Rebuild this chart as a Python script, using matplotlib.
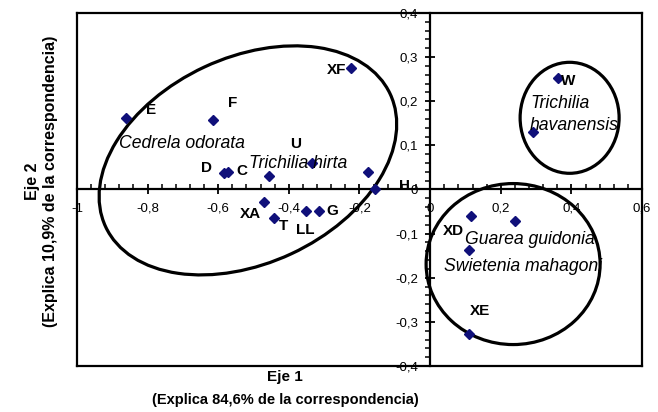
import matplotlib
matplotlib.use("Agg")
from matplotlib import pyplot as plt
from matplotlib.patches import Ellipse
from matplotlib.transforms import ScaledTranslation

# point coordinates
pts_x = [-0.861, -0.614, -0.224, -0.584, -0.571, -0.456, -0.335, -0.470, -0.442,
         -0.352, -0.316, -0.176, -0.156, 0.361, 0.290, 0.115, 0.239, 0.110, 0.110]
pts_y = [0.161, 0.157, 0.276, 0.038, 0.039, 0.030, 0.060, -0.028, -0.064,
         -0.048, -0.048, 0.039, 0.000, 0.252, 0.130, -0.061, -0.072, -0.136, -0.328]

point_labels = ["E", "F", "XF", "U", "D", "C", "XA", "T", "LL", "G", "H", "W", "XD", "XE"]
label_x = [-0.791, -0.560, -0.264, -0.382, -0.633, -0.533, -0.510, -0.414, -0.354,
           -0.278, -0.073, 0.390, 0.066, 0.142]
label_y = [0.180, 0.196, 0.270, 0.104, 0.048, 0.042, -0.055, -0.083, -0.092,
           -0.049, 0.009, 0.245, -0.095, -0.275]

species = ["Cedrela odorata", "Trichilia hirta", "Trichilia\nhavanensis",
           "Guarea guidonia", "Swietenia mahagoni"]
species_x = [-0.703, -0.373, 0.283, 0.283, 0.264]
species_y = [0.105, 0.060, 0.170, -0.114, -0.174]
species_ha = ["center", "center", "left", "center", "center"]

xticks = [-1, -0.8, -0.6, -0.4, -0.2, 0, 0.2, 0.4, 0.6]
xtick_labels = ["-1", "-0,8", "-0,6", "-0,4", "-0,2", "0", "0,2", "0,4", "0,6"]
yticks = [-0.4, -0.3, -0.2, -0.1, 0, 0.1, 0.2, 0.3, 0.4]
ytick_labels = ["-0,4", "-0,3", "-0,2", "-0,1", "0", "0,1", "0,2", "0,3", "0,4"]

# groups: centre (data), semi axes (px), angle
groups_cx = [-0.516, 0.395, 0.235]
groups_cy = [0.066, 0.1625, -0.169]
groups_a = [157, 49.5, 87]
groups_b = [103, 55.5, 80.5]
groups_ang = [25, 0, 0]

plt.rcParams["font.family"] = ["Liberation Sans", "DejaVu Sans"]

fig = plt.figure(figsize=(6.58, 4.12), dpi=100)
ax = fig.add_axes([0.117, 0.1117, 0.8587, 0.8567])
ax.set_xlim(-1, 0.6)
ax.set_ylim(-0.4, 0.4)

ax.spines["left"].set_position(("data", 0))
ax.spines["bottom"].set_position(("data", 0))
for s in ax.spines.values():
    s.set_linewidth(1.6)
    s.set_color("black")
# outer frame edges that the moved spines leave empty
ax.plot([0, 0], [0, 1], color="black", lw=1.6, transform=ax.transAxes, clip_on=False, zorder=5)
ax.plot([0, 1], [0, 0], color="black", lw=1.6, transform=ax.transAxes, clip_on=False, zorder=5)

ax.set_xticks(xticks)
ax.set_xticklabels(xtick_labels)
ax.set_yticks(yticks)
ax.set_yticklabels(ytick_labels)
ax.set_xticks([v / 100 for v in range(-100, 61, 4)], minor=True)
ax.set_yticks([v / 100 for v in range(-40, 41, 2)], minor=True)
ax.tick_params(which="major", direction="inout", length=7, width=1.3, labelsize=9.5, pad=5)
ax.tick_params(which="minor", direction="in", length=3.5, width=1.1)
ax.tick_params(axis="y", which="minor", direction="out")
ax.tick_params(axis="x", which="major", pad=6)

for cx, cy, a, b, ang in zip(groups_cx, groups_cy, groups_a, groups_b, groups_ang):
    tr = fig.dpi_scale_trans + ScaledTranslation(cx, cy, ax.transData)
    ax.add_patch(Ellipse((0, 0), 2 * a / 100, 2 * b / 100, angle=ang, transform=tr,
                         fill=False, ec="black", lw=2.3, zorder=3))

ax.plot(pts_x, pts_y, ls="none", marker="D", ms=5.5, color="#10107a", zorder=4, clip_on=False)

for t, x, y in zip(point_labels, label_x, label_y):
    ax.text(x, y, t, fontsize=11, fontweight="bold", ha="center", va="center", zorder=6)

for t, x, y, ha in zip(species, species_x, species_y, species_ha):
    ax.text(x, y, t, fontsize=12.7, fontstyle="italic", ha=ha, va="center", zorder=6,
            linespacing=1.35)

fig.text(0.433, 0.085, "Eje 1", fontsize=11, fontweight="bold", ha="center", va="center")
fig.text(0.433, 0.029, "(Explica 84,6% de la correspondencia)", fontsize=10.5,
         fontweight="bold", ha="center", va="center")
fig.text(0.049, 0.56, "Eje 2", fontsize=11.5, fontweight="bold", rotation=90,
         ha="center", va="center")
fig.text(0.077, 0.56, "(Explica 10,9% de la correspondencia)", fontsize=11.5,
         fontweight="bold", rotation=90, ha="center", va="center")

fig.savefig("out.png", dpi=100)
